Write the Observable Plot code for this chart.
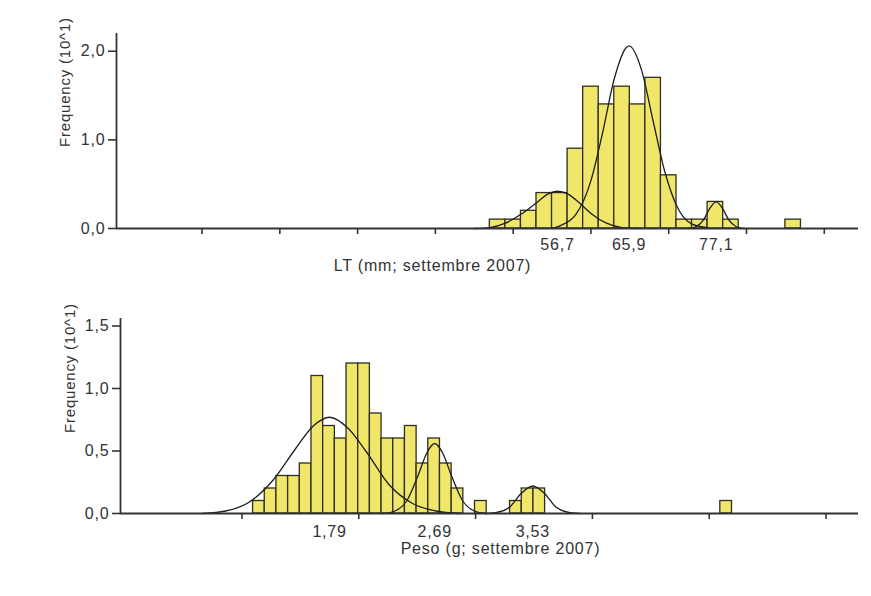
<!DOCTYPE html>
<html><head><meta charset="utf-8">
<script src="https://cdn.jsdelivr.net/npm/d3@7"></script>
<script src="https://cdn.jsdelivr.net/npm/@observablehq/plot@0.6"></script>
<style>
body{margin:0;background:#fff;}
#wrap{position:relative;width:871px;height:596px;overflow:hidden;background:#fff;font-family:"Liberation Sans",Arial,sans-serif;}
#frame{position:absolute;left:4px;top:4px;right:-10px;bottom:-10px;border-left:2px solid #5c5c5c;border-top:2px solid #5c5c5c;}
#p1{position:absolute;left:0;top:0;}
#p2{position:absolute;left:0;top:290px;}
svg text{letter-spacing:0.8px;}
</style></head>
<body><div id="wrap"><div id="frame"></div><div id="p1"></div><div id="p2"></div></div>
<script>
// ---- Top panel: LT (mm) ----
const ltBinLeft = [48,50,52,54,56,58,60,62,64,66,68,70,72,74,76,78,86];
const ltFreq    = [0.1,0.1,0.2,0.4,0.4,0.9,1.6,1.4,1.6,1.4,1.7,0.6,0.1,0.1,0.3,0.1,0.1];
const ltBinWidth = 2;
const ltTicks = [11,21,31,41,51,61,71,81,91];
const ltMeans = [56.7,65.9,77.1];
const ltYTicks = [0,1,2];
const ltComp1X = [46,48,50,52,54,55.5,56.7,58,59.5,61,63,65,67];
const ltComp1Y = [0,0.01,0.06,0.16,0.29,0.39,0.42,0.39,0.29,0.17,0.06,0.01,0];
const ltComp2X = [56,57,59,61,62.5,64,65.9,67.5,69,70.5,72,74,76];
const ltComp2Y = [0,0.03,0.15,0.54,1.08,1.69,2.06,1.79,1.21,0.64,0.26,0.05,0.01];
const ltComp3X = [73.5,74.5,75.5,76.3,77.1,77.9,78.7,79.7,80.7];
const ltComp3Y = [0,0.02,0.10,0.23,0.30,0.23,0.10,0.02,0];
const ltTitle = "LT (mm; settembre 2007)";

// ---- Bottom panel: Peso (g) ----
const pesoBinLeft = [1.135,1.235,1.335,1.435,1.535,1.635,1.735,1.835,1.935,2.035,2.135,2.235,2.335,2.435,2.535,2.635,2.735,2.835,3.035,3.335,3.435,3.535,5.135];
const pesoFreq    = [0.1,0.2,0.3,0.3,0.4,1.1,0.7,0.6,1.2,1.2,0.8,0.6,0.6,0.7,0.4,0.6,0.4,0.2,0.1,0.1,0.2,0.2,0.1];
const pesoBinWidth = 0.1;
const pesoTicks = [1.04,2.04,3.04,4.04,5.04,6.04];
const pesoMeans = [1.79,2.69,3.53];
const pesoYTicks = [0,0.5,1,1.5];
const pesoComp1X = [0.7,0.9,1.1,1.3,1.5,1.65,1.79,1.95,2.1,2.3,2.5,2.7,2.9];
const pesoComp1Y = [0,0.02,0.09,0.26,0.52,0.70,0.77,0.68,0.50,0.23,0.08,0.02,0];
const pesoComp2X = [2.25,2.35,2.45,2.55,2.62,2.69,2.76,2.83,2.93,3.03,3.13];
const pesoComp2Y = [0,0.02,0.10,0.31,0.48,0.56,0.48,0.31,0.10,0.02,0];
const pesoComp3X = [3.13,3.23,3.33,3.43,3.53,3.63,3.73,3.83,3.93];
const pesoComp3Y = [0,0.01,0.05,0.16,0.22,0.16,0.05,0.01,0];
const pesoTitle = "Peso (g; settembre 2007)";

const yLabel = "Frequency (10^1)";

const itLocale = d3.formatLocale({decimal: ",", thousands: ".", grouping: [3], currency: ["", "€"]});
const fmt1 = itLocale.format(".1f");
const fmt2 = itLocale.format(".2f");

const barFill = "#efe66a";
const ink = "#333";

function bars(lefts, freqs, w) {
  return lefts.map((x0, i) => ({x0, x1: x0 + w, f: freqs[i]}));
}
function curves(list) {
  const out = [];
  list.forEach(([xs, ys], c) => xs.forEach((x, i) => out.push({comp: c, x, y: ys[i]})));
  return out;
}

function panel({binsData, curveData, xDomain, yDomain, ticks, means, meanFmt, yTicks, title,
                width, height, mLeft, mTop, mBottom, labelPad, titleDx, titleDy, yLabDx, yLabDy}) {
  return Plot.plot({
    width, height,
    marginLeft: mLeft, marginRight: 13, marginTop: mTop, marginBottom: mBottom,
    style: {fontFamily: '"Liberation Sans", Arial, sans-serif', fontSize: "16px", color: ink, background: "white"},
    x: {domain: xDomain},
    y: {domain: yDomain},
    marks: [
      Plot.rectY(binsData, {x1: "x0", x2: "x1", y: "f", fill: barFill, stroke: "#2e2e22", strokeWidth: 1.3, inset: 0}),
      Plot.line(curveData, {x: "x", y: "y", z: "comp", curve: "monotone-x", stroke: "#1e1e1e", strokeWidth: 1.3}),
      Plot.ruleY([yDomain[0]], {stroke: ink, strokeWidth: 1.8}),
      Plot.ruleX([xDomain[0]], {stroke: ink, strokeWidth: 1.8}),
      Plot.axisY({ticks: yTicks, tickFormat: fmt1, tickSize: 8, tickPadding: 3, fontSize: 16, color: ink, strokeWidth: 1.6, label: null}),
      Plot.axisX({ticks, tickFormat: () => "", tickSize: 6, color: ink, strokeWidth: 1.6, label: null}),
      Plot.axisX({ticks: means, tickFormat: meanFmt, tickSize: 0, tickPadding: labelPad, fontSize: 16, color: ink, label: null}),
      Plot.text([title], {text: d => d, frameAnchor: "bottom", dx: titleDx, dy: titleDy, lineAnchor: "middle", fontSize: 16, fill: ink}),
      Plot.text([yLabel], {text: d => d, frameAnchor: "left", rotate: -90, dx: yLabDx, dy: yLabDy, lineAnchor: "middle", fontSize: 15, fill: ink})
    ]
  });
}

document.getElementById("p1").append(panel({
  binsData: bars(ltBinLeft, ltFreq, ltBinWidth),
  curveData: curves([[ltComp1X, ltComp1Y], [ltComp2X, ltComp2Y], [ltComp3X, ltComp3Y]]),
  xDomain: [0, 95.4], yDomain: [0, 2.2],
  ticks: ltTicks, means: ltMeans, meanFmt: fmt1, yTicks: ltYTicks, title: ltTitle,
  width: 871, height: 290, mLeft: 116, mTop: 33, mBottom: 62, labelPad: 10,
  titleDx: -55, titleDy: 37, yLabDx: -51, yLabDy: 16
}));

document.getElementById("p2").append(panel({
  binsData: bars(pesoBinLeft, pesoFreq, pesoBinWidth),
  curveData: curves([[pesoComp1X, pesoComp1Y], [pesoComp2X, pesoComp2Y], [pesoComp3X, pesoComp3Y]]),
  xDomain: [0, 6.318], yDomain: [0, 1.56],
  ticks: pesoTicks, means: pesoMeans, meanFmt: fmt2, yTicks: pesoYTicks, title: pesoTitle,
  width: 871, height: 306, mLeft: 120, mTop: 28, mBottom: 83, labelPad: 12,
  titleDx: 11, titleDy: 35, yLabDx: -50, yLabDy: 17
}));
</script>
</body></html>
